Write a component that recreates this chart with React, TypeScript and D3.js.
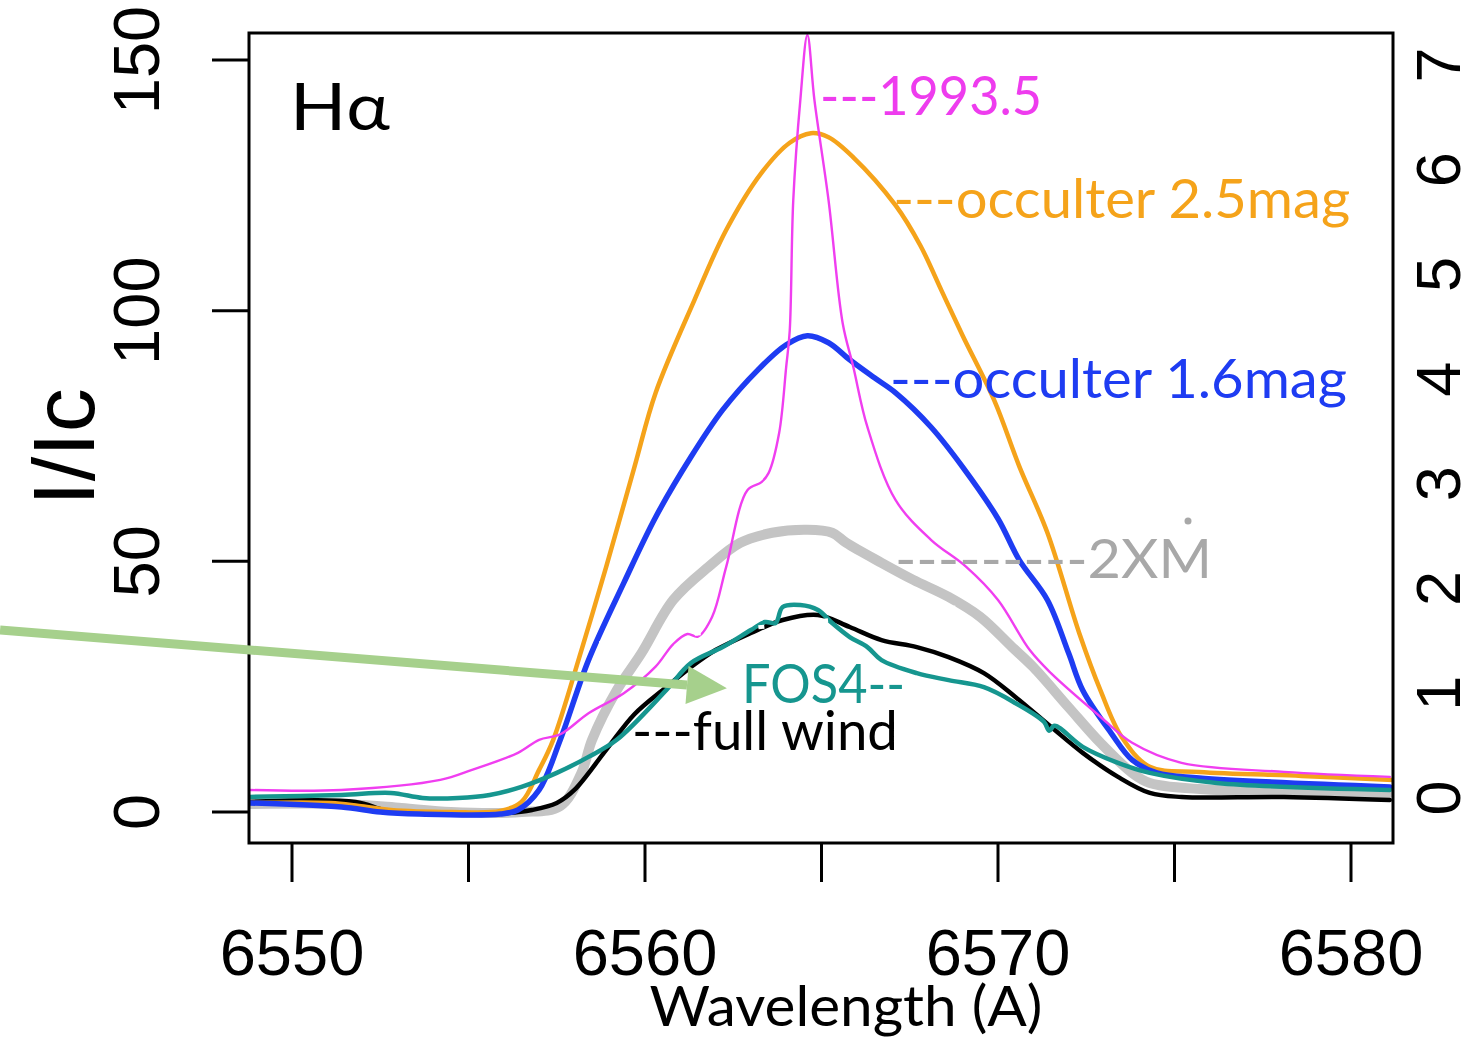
import React from "react";
import * as d3 from "d3";

type P = [number, number];

// ---- data (wavelength Å, I/Ic) ----
const occulter25: P[] = [[6548.8,1.8],[6551.1,1.8],[6551.9,1.2],[6552.8,0.4],[6554.5,0],[6555.9,0.2],[6556.5,2.0],[6557.0,8.4],[6557.4,14.4],[6558.2,32.3],[6558.9,48.9],[6559.7,68.8],[6560.3,83.6],[6561.4,102.1],[6562.3,116.1],[6563.3,127.5],[6564.1,133.5],[6564.7,135.4],[6565.2,134.6],[6565.9,130.6],[6567.1,121],[6567.8,113],[6568.4,104],[6569.0,95],[6569.9,82],[6570.6,69],[6571.4,55.7],[6572.3,35.7],[6572.9,24.3],[6573.5,15.0],[6574.3,9.0],[6575.7,8.0],[6578.6,7.2],[6581.2,6.4]];

const occulter16: P[] = [[6548.8,1.8],[6551.4,1.0],[6552.5,0],[6553.6,-0.4],[6555.9,-0.4],[6556.4,0.4],[6557.0,4.4],[6557.6,14.4],[6558.4,30.3],[6559.4,45.7],[6560.3,58.8],[6561.3,70.8],[6562.2,80.2],[6563.2,88.2],[6564.0,93.2],[6564.6,95.0],[6565.2,93.6],[6565.8,90.2],[6566.5,86.6],[6567.1,83.6],[6568.1,76.8],[6569.0,68.8],[6570.0,58.5],[6570.6,50.3],[6571.4,42.3],[6572.0,31.7],[6572.4,24.3],[6573.2,15.8],[6573.8,10.4],[6574.5,7.8],[6575.7,6.8],[6581.1,5.0]];

const obs1993: P[] = [[6548.8,4.4],[6551.4,4.4],[6554.2,6.4],[6555.1,8.4],[6556.4,11.8],[6557.0,14.4],[6557.6,15.5],[6558.4,19.7],[6559.4,23.7],[6560.3,29],[6560.8,33.5],[6561.2,35.5],[6561.5,35.0],[6561.9,38.9],[6562.3,48.9],[6562.9,64.2],[6563.3,65.8],[6563.5,67.6],[6563.8,75.6],[6564.0,88.8],[6564.1,96],[6564.2,122],[6564.4,142],[6564.6,155],[6564.8,142],[6565.2,122],[6565.6,97.5],[6565.9,88.8],[6566.3,76.8],[6567.1,62.2],[6568.1,54.3],[6569.1,48.9],[6570.0,42.3],[6570.9,32.3],[6571.5,27.7],[6572.9,19.0],[6573.8,13.8],[6575.2,9.8],[6578.1,8.0],[6581.1,7.0]];

const twoXMdot: P[] = [[6548.8,1.6],[6551.4,1.6],[6553.1,0.8],[6554.5,0],[6556.5,0],[6557.6,1.2],[6558.2,7.8],[6558.5,14.4],[6559.2,24.3],[6559.9,31.7],[6560.8,42.3],[6561.8,48.9],[6562.7,53.7],[6563.6,55.7],[6564.6,56.3],[6565.3,55.7],[6565.7,53.7],[6566.7,49.7],[6567.6,46.3],[6568.6,42.9],[6569.5,38.9],[6570.4,32.9],[6571.0,28.9],[6572.0,20.9],[6572.9,13.8],[6573.8,7.8],[6574.3,5.8],[6576.2,4.4],[6581.1,3.8]];

const fullWind: P[] = [[6548.8,2.0],[6551.8,2.0],[6552.6,0.4],[6553.3,-0.2],[6556.1,-0.2],[6556.8,0.4],[6557.5,1.8],[6558.0,4.4],[6558.9,12.4],[6559.7,19.5],[6560.6,24.9],[6561.3,28.9],[6562.0,32.3],[6563.0,35.7],[6563.9,38.3],[6564.9,39.3],[6565.8,36.9],[6566.7,34.3],[6567.7,32.9],[6568.6,30.9],[6569.6,27.7],[6570.5,22.9],[6571.5,17.0],[6572.4,11.8],[6573.4,7.0],[6574.3,3.8],[6575.2,3.0],[6578.1,3.0],[6581.1,2.4]];

const fos4: P[] = [[6548.8,3.0],[6551.4,3.4],[6552.8,3.8],[6553.7,2.8],[6554.7,2.8],[6555.6,3.4],[6556.5,5.0],[6557.5,7.8],[6558.4,11.0],[6559.2,14.4],[6560.6,24.3],[6561.3,29.7],[6562.2,32.9],[6563.0,36.3],[6563.4,37.9],[6563.7,37.7],[6563.9,40.9],[6564.4,41.3],[6564.9,40.3],[6565.3,37.7],[6565.8,34.9],[6566.3,32.9],[6566.7,30.3],[6567.7,27.7],[6568.6,26.3],[6569.6,24.9],[6570.5,21.7],[6571.3,18.0],[6571.45,16.2],[6571.6,17.2],[6572.4,13.0],[6573.4,9.8],[6574.3,7.8],[6576.2,5.8],[6581.1,4.4]];

const xTicks = [6550, 6555, 6560, 6565, 6570, 6575, 6580];
const xTickLabels = [6550, 6560, 6570, 6580];
const yTicks = [0, 50, 100, 150];
const yRightLabels = [0, 1, 2, 3, 4, 5, 6, 7];

// label text, anchor (wavelength, I/Ic)
const labelTexts = ["---1993.5", "---occulter 2.5mag", "---occulter 1.6mag", "---------2XM", "FOS4--", "---full wind"];
const labelAnchors: P[] = [[6564.96, 139.0], [6567.03, 118.5], [6566.94, 82.6], [6567.08, 46.7], [6562.75, 21.7], [6559.63, 12.4]];
const arrowFrom: P = [6541.73, 36.3];
const arrowTo: P = [6562.32, 24.7];
// faint white dashed overlay seen across the curves
const whiteDash: P[] = [[6557.8, 33], [6569.1, 41]];

export default function App() {
  const W = 1473, H = 1039;
  const box = { left: 249, right: 1393, top: 33, bottom: 843 };
  const x = d3.scaleLinear().domain([6550, 6580]).range([292, 1351]);
  const y = d3.scaleLinear().domain([0, 150]).range([812, 60]);
  const yR = d3.scaleLinear().domain([0, 7]).range([798, 65]);
  const line = d3.line<P>().x(d => x(d[0])).y(d => y(d[1])).curve(d3.curveCatmullRom.alpha(0.5));

  const series = [
    { data: twoXMdot, color: "#c4c4c4", w: 10 },
    { data: fullWind, color: "#000000", w: 4.5 },
    { data: occulter25, color: "#f5a31a", w: 4.5 },
    { data: occulter16, color: "#1e3cf2", w: 5.5 },
    { data: obs1993, color: "#f03ef0", w: 2.4 },
    { data: fos4, color: "#16968f", w: 4.5 },
  ];
  const labelColors = ["#ee3cee", "#f5a31a", "#1e3cf2", "#a8a8a8", "#16968f", "#000000"];
  const labelWidths = [222, 457, 457, 317, 163, 266];

  const ax0 = x(arrowFrom[0]), ay0 = y(arrowFrom[1]);
  const ax1 = x(arrowTo[0]), ay1 = y(arrowTo[1]);
  const ang = Math.atan2(ay1 - ay0, ax1 - ax0);
  const hl = 40, hw = 19;
  const bx = ax1 - hl * Math.cos(ang), by = ay1 - hl * Math.sin(ang);
  const head = [
    [ax1, ay1],
    [bx + hw * Math.sin(ang), by - hw * Math.cos(ang)],
    [bx - hw * Math.sin(ang), by + hw * Math.cos(ang)],
  ].map(p => p.join(",")).join(" ");

  const numFont = "'Liberation Sans', Arial, sans-serif";
  const labFont = "Lato, 'Open Sans', sans-serif";

  return (
    <svg width={W} height={H} style={{ position: "absolute", left: 0, top: 0, background: "#fff" }}>
      <defs>
        <clipPath id="plotclip">
          <rect x={box.left} y={box.top} width={box.right - box.left} height={box.bottom - box.top} />
        </clipPath>
      </defs>
      <rect x={0} y={0} width={W} height={H} fill="#fff" />
      <g clipPath="url(#plotclip)">
        {series.map((s, i) => (
          <path key={i} d={line(s.data) || ""} fill="none" stroke={s.color} strokeWidth={s.w} strokeLinejoin="round" strokeLinecap="round" />
        ))}
        <line x1={x(whiteDash[0][0])} y1={y(whiteDash[0][1])} x2={x(whiteDash[1][0])} y2={y(whiteDash[1][1])}
          stroke="#fff" strokeWidth={4} strokeDasharray="6 26" />
      </g>
      <rect x={box.left} y={box.top} width={box.right - box.left} height={box.bottom - box.top} fill="none" stroke="#000" strokeWidth={3} />
      {/* left axis */}
      {yTicks.map(t => (
        <g key={t}>
          <line x1={212} x2={box.left} y1={y(t)} y2={y(t)} stroke="#000" strokeWidth={3} />
          <text transform={`translate(159,${y(t)}) rotate(-90)`} textAnchor="middle" fontFamily={numFont} fontSize={65}>{t}</text>
        </g>
      ))}
      {/* right labels */}
      {yRightLabels.map(t => (
        <text key={t} transform={`translate(1460,${yR(t)}) rotate(-90)`} textAnchor="middle" fontFamily={numFont} fontSize={63}>{t}</text>
      ))}
      {/* bottom axis */}
      {xTicks.map(t => (
        <line key={t} x1={x(t)} x2={x(t)} y1={box.bottom} y2={882} stroke="#000" strokeWidth={3} />
      ))}
      {xTickLabels.map(t => (
        <text key={t} x={x(t)} y={975} textAnchor="middle" fontFamily={numFont} fontSize={65}>{t}</text>
      ))}
      <text transform="translate(94,447) rotate(-90)" textAnchor="middle" fontFamily={numFont} fontSize={88}>I/Ic</text>
      <text x={846} y={1026} textAnchor="middle" fontFamily={labFont} fontSize={56} textLength={393} lengthAdjust="spacingAndGlyphs">Wavelength (A)</text>
      <text x={290} y={130} fontFamily={labFont} fontSize={66} textLength={100} lengthAdjust="spacingAndGlyphs">Hα</text>
      {/* series labels */}
      {labelTexts.map((t, i) => (
        <text key={t} x={x(labelAnchors[i][0])} y={y(labelAnchors[i][1])} fill={labelColors[i]} fontFamily={labFont} fontSize={54} textLength={labelWidths[i]} lengthAdjust="spacingAndGlyphs">{t}</text>
      ))}
      <circle cx={1188} cy={521} r={3.5} fill="#a8a8a8" />
      {/* arrow */}
      <line x1={ax0} y1={ay0} x2={bx} y2={by} stroke="#a6d08c" strokeWidth={9} />
      <polygon points={head} fill="#a6d08c" />
    </svg>
  );
}
